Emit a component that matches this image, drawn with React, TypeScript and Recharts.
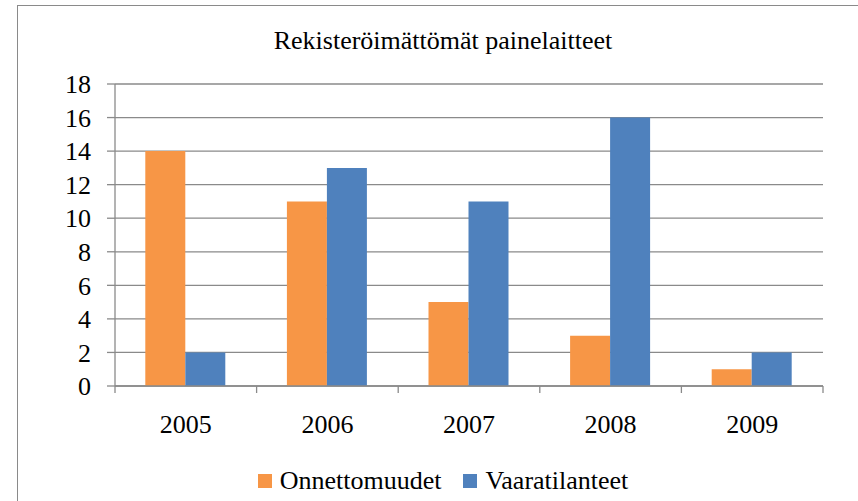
import React from 'react';
import { BarChart, Bar, XAxis, YAxis, CartesianGrid, Legend } from 'recharts';

const years = ['2005', '2006', '2007', '2008', '2009'];
const onnettomuudet = [14, 11, 5, 3, 1];
const vaaratilanteet = [2, 13, 11, 16, 2];
const yTicks = [0, 2, 4, 6, 8, 10, 12, 14, 16, 18];

const data = years.map((year, i) => ({
  year,
  Onnettomuudet: onnettomuudet[i],
  Vaaratilanteet: vaaratilanteet[i],
}));

const FONT = "'Liberation Serif', Tinos, 'Times New Roman', Times, 'DejaVu Serif', serif";
const GRID = '#8a8a8a';
const ORANGE = '#F79646';
const BLUE = '#4F81BD';

// label under each category, plus the tick marks on the category boundaries
const YearTick = (props: any) => {
  const { x, y, payload, index, visibleTicksCount } = props;
  const half = payload?.offset ?? 0;
  const last = index === (visibleTicksCount ?? years.length) - 1;
  return (
    <g>
      <line x1={x - half} x2={x - half} y1={y} y2={y + 7} stroke={GRID} strokeWidth={1.3} />
      {last && <line x1={x + half} x2={x + half} y1={y} y2={y + 7} stroke={GRID} strokeWidth={1.3} />}
      <text x={x} y={y + 47} textAnchor="middle" fill="#000" fontSize={26} style={{ fontFamily: FONT }}>
        {payload.value}
      </text>
    </g>
  );
};

const LegendContent = () => (
  <div
    style={{
      display: 'flex',
      justifyContent: 'center',
      alignItems: 'center',
      height: 30,
      fontFamily: FONT,
      fontSize: 26,
      color: '#000',
    }}
  >
    {[
      ['Onnettomuudet', ORANGE],
      ['Vaaratilanteet', BLUE],
    ].map(([name, color], i) => (
      <span key={name} style={{ display: 'flex', alignItems: 'center', marginLeft: i ? 22 : 0 }}>
        <span style={{ width: 14, height: 14, background: color, marginRight: 8, display: 'inline-block' }} />
        {name}
      </span>
    ))}
  </div>
);

export default function App() {
  return (
    <div style={{ position: 'absolute', left: 0, top: 0, width: 858, height: 501, overflow: 'hidden', background: '#fff', fontFamily: FONT }}>
      <div
        style={{
          position: 'absolute',
          left: 17,
          top: 5,
          width: 900,
          height: 600,
          border: `1.3px solid ${GRID}`,
        }}
      />
      <div
        style={{
          position: 'absolute',
          left: 17,
          width: 852,
          top: 26,
          textAlign: 'center',
          fontFamily: FONT,
          fontSize: 26,
          color: '#000',
        }}
      >
        Rekisteröimättömät painelaitteet
      </div>
      <div style={{ position: 'absolute', left: 0, top: 0 }}>
        <BarChart
          width={858}
          height={501}
          data={data}
          margin={{ top: 84, right: 35, left: 55, bottom: 25 }}
          barCategoryGap="21.4%"
          barGap={0}
          style={{ fontFamily: FONT }}
        >
          <CartesianGrid vertical={false} stroke={GRID} strokeWidth={1.3} />
          <XAxis
            dataKey="year"
            height={60}
            axisLine={{ stroke: GRID, strokeWidth: 1.3 }}
            tickLine={false}
            tickSize={0}
            tickMargin={0}
            interval={0}
            tick={<YearTick />}
          />
          <YAxis
            width={60}
            domain={[0, 18]}
            ticks={yTicks}
            interval={0}
            axisLine={{ stroke: GRID, strokeWidth: 1.3 }}
            tickLine={{ stroke: GRID, strokeWidth: 1.3 }}
            tickSize={8}
            tickMargin={16}
            tick={{ fill: '#000', fontSize: 26, style: { fontFamily: FONT } }}
          />
          <Legend
            content={<LegendContent />}
            wrapperStyle={{ top: 466, left: 17, width: 852, height: 30 }}
          />
          <Bar dataKey="Onnettomuudet" fill={ORANGE} isAnimationActive={false} />
          <Bar dataKey="Vaaratilanteet" fill={BLUE} isAnimationActive={false} />
        </BarChart>
      </div>
    </div>
  );
}
